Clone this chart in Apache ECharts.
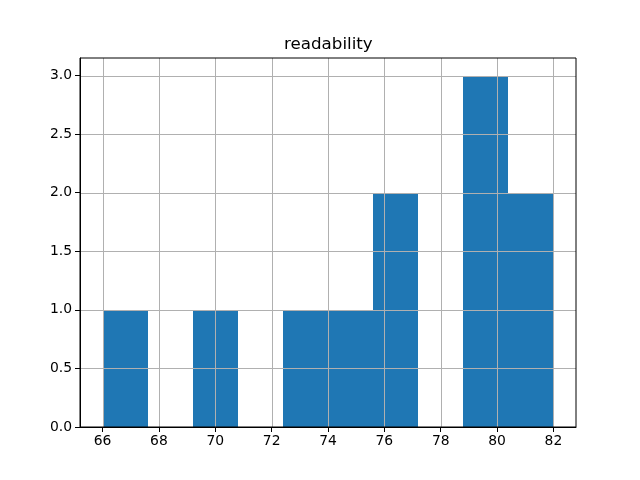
<!DOCTYPE html>
<html>
<head>
<meta charset="utf-8">
<script src="https://cdn.jsdelivr.net/npm/echarts@6/dist/echarts.min.js"></script>
<style>html,body{margin:0;padding:0;background:#fff;}#c{width:640px;height:480px;}</style>
</head>
<body>
<div id="c"></div>
<script>
var titleText = 'readability';
var binStarts = [66.0, 67.6, 69.2, 70.8, 72.4, 74.0, 75.6, 77.2, 78.8, 80.4];
var binEnds   = [67.6, 69.2, 70.8, 72.4, 74.0, 75.6, 77.2, 78.8, 80.4, 82.0];
var counts    = [1, 0, 1, 0, 1, 1, 2, 0, 3, 2];
var xTicks = [66, 68, 70, 72, 74, 76, 78, 80, 82];
var yTicks = [0, 0.5, 1.0, 1.5, 2.0, 2.5, 3.0];

var barData = binStarts.map(function (s, i) { return [s, binEnds[i], counts[i]]; });
var font = 'DejaVu Sans';
var chart = echarts.init(document.getElementById('c'), null, {renderer: 'canvas'});
chart.setOption({
  animation: false,
  backgroundColor: '#fff',
  title: {
    text: titleText, left: 279, top: 31,
    textStyle: {fontFamily: font, fontSize: 16.7, fontWeight: 'normal', color: '#000'}
  },
  grid: {left: 80, right: 64, top: 58, bottom: 53, show: true, borderColor: '#000', borderWidth: 1, backgroundColor: 'transparent', z: 10},
  xAxis: {
    type: 'value', min: 65.2, max: 82.8, z: 10,
    axisLine: {show: true, lineStyle: {color: '#000', width: 1}},
    axisTick: {show: true, length: 5, customValues: xTicks, lineStyle: {color: '#000'}},
    axisLabel: {customValues: xTicks, margin: 7, color: '#000', fontFamily: font, fontSize: 13.9},
    splitLine: {show: false}
  },
  yAxis: {
    type: 'value', min: 0, max: 3.15, interval: 0.5, z: 10,
    axisLine: {show: true, lineStyle: {color: '#000', width: 1}},
    axisTick: {show: true, length: 5, lineStyle: {color: '#000'}},
    axisLabel: {margin: 8, color: '#000', fontFamily: font, fontSize: 13.9,
      formatter: function (v) { return v.toFixed(1); }, showMaxLabel: false},
    splitLine: {show: false}
  },
  series: [
    {
      type: 'custom', z: 2,
      data: barData,
      encode: {x: [0, 1], y: 2},
      renderItem: function (params, api) {
        if (api.value(2) <= 0) return null;
        var p0 = api.coord([api.value(0), 0]);
        var p1 = api.coord([api.value(1), api.value(2)]);
        var x0 = Math.round(p0[0]), x1 = Math.round(p1[0]);
        var y0 = Math.round(p0[1]), y1 = Math.round(p1[1]);
        return {type: 'rect', shape: {x: x0, y: y1, width: x1 - x0, height: y0 - y1},
          style: {fill: '#1f77b4'}};
      }
    },
    {
      type: 'custom', z: 3, silent: true,
      data: xTicks.map(function (v) { return [v]; }),
      encode: {x: 0},
      renderItem: function (params, api) {
        var cs = params.coordSys;
        var p = api.coord([api.value(0), 0]);
        var x = Math.round(p[0]) + 0.5;
        return {type: 'line', shape: {x1: x, y1: cs.y, x2: x, y2: cs.y + cs.height},
          style: {stroke: '#b0b0b0', lineWidth: 1}};
      }
    },
    {
      type: 'custom', z: 3, silent: true,
      data: yTicks.map(function (v) { return [v]; }),
      encode: {y: 0},
      renderItem: function (params, api) {
        var cs = params.coordSys;
        var p = api.coord([66, api.value(0)]);
        var y = Math.round(p[1]) + 0.5;
        return {type: 'line', shape: {x1: cs.x, y1: y, x2: cs.x + cs.width, y2: y},
          style: {stroke: '#b0b0b0', lineWidth: 1}};
      }
    }
  ]
});
</script>
</body>
</html>
